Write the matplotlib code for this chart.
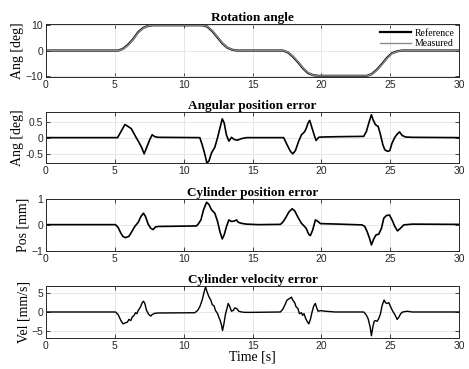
import matplotlib
matplotlib.use("Agg")
from matplotlib import pyplot as plt

# rotation angle (deg)
t_ang = [0, 5.24, 5.6, 5.98, 6.34, 6.7, 7.07, 7.44, 7.8, 11.34, 11.7, 12.07, 12.44, 12.8,
         13.17, 13.54, 13.9, 17.2, 17.56, 17.93, 18.3, 18.66, 19.02, 19.39, 19.76, 23.3,
         23.66, 24.0, 24.4, 24.76, 25.1, 25.5, 25.85, 30]
ang_ref = [0, 0, 0.7, 2.4, 4.6, 7.3, 9.0, 9.8, 10, 10, 9.5, 7.7, 5.3, 2.9,
           1.1, 0.3, 0, 0, -0.7, -2.4, -4.6, -7.0, -8.9, -9.7, -10, -10,
           -9.3, -7.7, -5.3, -2.9, -1.1, -0.3, 0, 0]
ang_meas = [0, 0, 0.6, 2.2, 4.4, 7.1, 8.9, 9.8, 10, 10, 9.6, 7.9, 5.5, 3.1,
            1.2, 0.35, 0, 0, -0.6, -2.2, -4.4, -6.8, -8.8, -9.7, -10, -10,
            -9.4, -7.9, -5.5, -3.1, -1.2, -0.35, 0, 0]

# angular position error (deg)
t_angerr = [0, 5.2, 5.73, 5.97, 6.2, 6.5, 6.7, 6.94, 7.13, 7.3, 7.54, 7.71, 7.9, 8.15,
            11.17, 11.34, 11.54, 11.68, 11.83, 12.02, 12.26, 12.46, 12.63, 12.8, 12.94,
            13.1, 13.28, 13.47, 13.67, 13.9, 14.2, 14.56, 17.26, 17.5, 17.75, 17.92,
            18.11, 18.35, 18.55, 18.77, 18.89, 19.03, 19.15, 19.32, 19.47, 19.61, 19.8,
            20.05, 21.26, 23.07, 23.27, 23.44, 23.63, 23.75, 23.92, 24.12, 24.29, 24.46,
            24.6, 24.79, 24.96, 25.13, 25.33, 25.5, 25.67, 25.86, 26.1, 26.6, 30]
angerr = [0, 0, 0.41, 0.35, 0.28, 0.04, -0.11, -0.3, -0.51, -0.32, -0.06, 0.09, 0.03, 0.01,
          0.0, -0.22, -0.53, -0.79, -0.74, -0.48, -0.3, 0.0, 0.3, 0.59, 0.46,
          0.09, -0.11, 0.01, -0.06, -0.08, -0.03, 0.0, 0.0, -0.22, -0.43, -0.51,
          -0.41, -0.11, 0.09, 0.18, 0.28, 0.46, 0.54, 0.3, 0.09, -0.09, 0.01,
          0.02, 0.03, 0.04, 0.2, 0.46, 0.72, 0.56, 0.41, 0.35, 0.09, -0.22,
          -0.38, -0.43, -0.41, -0.17, 0.01, 0.11, 0.18, 0.07, 0.02, 0.01, 0.0]

# cylinder position error (mm)
t_pos = [0, 5.05, 5.24, 5.44, 5.6, 5.77, 6.02, 6.21, 6.45, 6.7, 6.89, 7.08, 7.23, 7.42,
         7.61, 7.78, 7.95, 8.15, 10.93, 11.05, 11.25, 11.44, 11.66, 11.83, 12.02, 12.26,
         12.46, 12.63, 12.8, 12.94, 13.11, 13.28, 13.47, 13.67, 13.84, 13.96, 14.2, 14.56,
         15.4, 17.02, 17.19, 17.39, 17.63, 17.87, 18.06, 18.31, 18.55, 18.72, 18.89, 19.08,
         19.2, 19.37, 19.56, 19.71, 19.93, 21.26, 22.95, 23.15, 23.32, 23.49, 23.63, 23.8,
         23.97, 24.16, 24.36, 24.53, 24.72, 24.94, 25.13, 25.33, 25.52, 25.74, 25.98,
         26.6, 30]
pos_err = [0.01, 0.01, -0.1, -0.32, -0.45, -0.49, -0.44, -0.28, -0.06, 0.1, 0.32, 0.45, 0.32, 0.03,
           -0.13, -0.18, -0.08, -0.06, -0.04, 0.03, 0.19, 0.58, 0.87, 0.79, 0.58, 0.45,
           0.13, -0.26, -0.54, -0.38, -0.06, 0.19, 0.13, 0.15, 0.19, 0.1, 0.06, 0.03,
           0.01, 0.02, 0.1, 0.26, 0.49, 0.62, 0.54, 0.28, 0.06, -0.03, -0.13, -0.36,
           -0.41, -0.19, 0.19, 0.15, 0.05, 0.03, 0.0, -0.06, -0.26, -0.51, -0.77, -0.54,
           -0.38, -0.36, -0.13, 0.26, 0.36, 0.38, 0.19, -0.06, -0.23, -0.13, 0.0,
           0.03, 0.02]

# cylinder velocity error (mm/s)
t_vel = [0, 5.05, 5.24, 5.44, 5.6, 5.77, 5.92, 6.02, 6.16, 6.26, 6.4, 6.5, 6.6, 6.7, 6.79,
         6.89, 6.99, 7.08, 7.18, 7.3, 7.47, 7.61, 7.71, 7.9, 8.15, 10.8, 11.0, 11.17, 11.34,
         11.49, 11.59, 11.68, 11.83, 11.97, 12.07, 12.21, 12.3, 12.46, 12.55, 12.65, 12.75,
         12.82, 12.92, 13.04, 13.14, 13.23, 13.35, 13.47, 13.6, 13.72, 13.86, 14.0, 14.2,
         14.44, 14.93, 17.02, 17.19, 17.34, 17.5, 17.68, 17.82, 17.92, 18.06, 18.16, 18.3,
         18.4, 18.55, 18.64, 18.74, 18.84, 18.96, 19.08, 19.2, 19.32, 19.44, 19.56, 19.66,
         19.76, 19.93, 20.29, 21.0, 23.07, 23.24, 23.39, 23.54, 23.63, 23.73, 23.83, 23.92,
         24.04, 24.16, 24.29, 24.41, 24.55, 24.65, 24.77, 24.89, 25.0, 25.18, 25.33, 25.5,
         25.62, 25.76, 25.9, 26.22, 26.59, 30]
vel_err = [0, 0, -0.7, -2.3, -3.2, -2.9, -2.7, -2.0, -2.3, -1.4, -0.9, -0.2, -0.45, 0.45, 0.9,
           1.6, 2.5, 2.9, 2.3, 0.45, -0.7, -1.1, -0.7, -0.36, -0.27, -0.2, 0.36, 1.4, 3.2,
           5.5, 6.8, 5.6, 4.1, 3.2, 2.0, 1.6, 0.45, -0.45, -1.4, -2.3, -3.6,
           -5.0, -3.2, -0.45, 0.9, 2.3, 1.4, 0.2, 0.45, 1.1, 0.9, 0.2, 0.0,
           -0.1, -0.1, 0.0, 0.7, 1.8, 3.2, 3.6, 4.0, 3.2, 2.5, 1.4, 0.9,
           -0.45, -0.2, -0.9, -0.45, -1.6, -2.5, -3.2, -2.0, 0.0, 1.6, 2.3, 1.1,
           0.2, 0.36, 0.2, 0.0, 0.0, -0.7, -1.8, -4.1, -6.4, -4.1, -2.5, -2.3,
           -2.5, -1.8, -0.45, 1.8, 3.2, 2.5, 2.3, 2.5, 1.6, 0.2, -0.7, -2.0,
           -1.4, -0.45, 0.0, 0.2, 0.0, 0.0]

serif = "Liberation Serif"
sans = "Liberation Sans"

fig = plt.figure(figsize=(4.69, 3.69), dpi=100)
left, width = 0.098, 0.881
boxes = [(0.791, 0.144), (0.558, 0.138), (0.320, 0.141), (0.084, 0.141)]
axes = [fig.add_axes([left, b, width, h]) for b, h in boxes]

ax = axes[0]
ax.plot(t_ang, ang_ref, color="black", lw=1.6, label="Reference")
ax.plot(t_ang, ang_meas, color="#8c8c8c", lw=1.0, label="Measured")
ax.set_ylim(-10.5, 10.5)
ax.set_yticks([-10, 0, 10])
ax.set_title("Rotation angle", fontfamily=serif, fontweight="bold", fontsize=9.5, pad=2)
ax.set_ylabel("Ang [deg]", fontfamily=serif, fontsize=10, labelpad=1)
leg = ax.legend(loc="upper right", frameon=False, prop={"family": serif, "size": 7},
                handlelength=3.2, handletextpad=0.3, borderaxespad=0.1, labelspacing=0.15)

ax = axes[1]
ax.plot(t_angerr, angerr, color="black", lw=1.2)
ax.set_ylim(-0.8, 0.8)
ax.set_yticks([-0.5, 0, 0.5])
ax.set_yticklabels(["-0.5", "0", "0.5"])
ax.set_title("Angular position error", fontfamily=serif, fontweight="bold", fontsize=9.5, pad=2)
ax.set_ylabel("Ang [deg]", fontfamily=serif, fontsize=10, labelpad=1)

ax = axes[2]
ax.plot(t_pos, pos_err, color="black", lw=1.2)
ax.set_ylim(-1, 1)
ax.set_yticks([-1, 0, 1])
ax.set_title("Cylinder position error", fontfamily=serif, fontweight="bold", fontsize=9.5, pad=2)
ax.set_ylabel("Pos [mm]", fontfamily=serif, fontsize=10, labelpad=1)

ax = axes[3]
ax.plot(t_vel, vel_err, color="black", lw=1.0)
ax.set_ylim(-7, 7)
ax.set_yticks([-5, 0, 5])
ax.set_title("Cylinder velocity error", fontfamily=serif, fontweight="bold", fontsize=9.5, pad=2)
ax.set_ylabel("Vel [mm/s]", fontfamily=serif, fontsize=10, labelpad=1)
ax.set_xlabel("Time [s]", fontfamily=serif, fontsize=10, labelpad=0)

for ax in axes:
    ax.set_xlim(0, 30)
    ax.set_xticks([0, 5, 10, 15, 20, 25, 30])
    ax.grid(True, color="#e3e3e3", lw=0.6)
    ax.set_axisbelow(True)
    ax.tick_params(direction="in", top=True, right=True, length=3, width=0.6,
                   labelsize=7.5, pad=2, colors="#262626")
    for lab in ax.get_xticklabels() + ax.get_yticklabels():
        lab.set_fontfamily(sans)
    for sp in ax.spines.values():
        sp.set_linewidth(0.7)
        sp.set_color("#262626")

fig.savefig("out.png", dpi=100)
